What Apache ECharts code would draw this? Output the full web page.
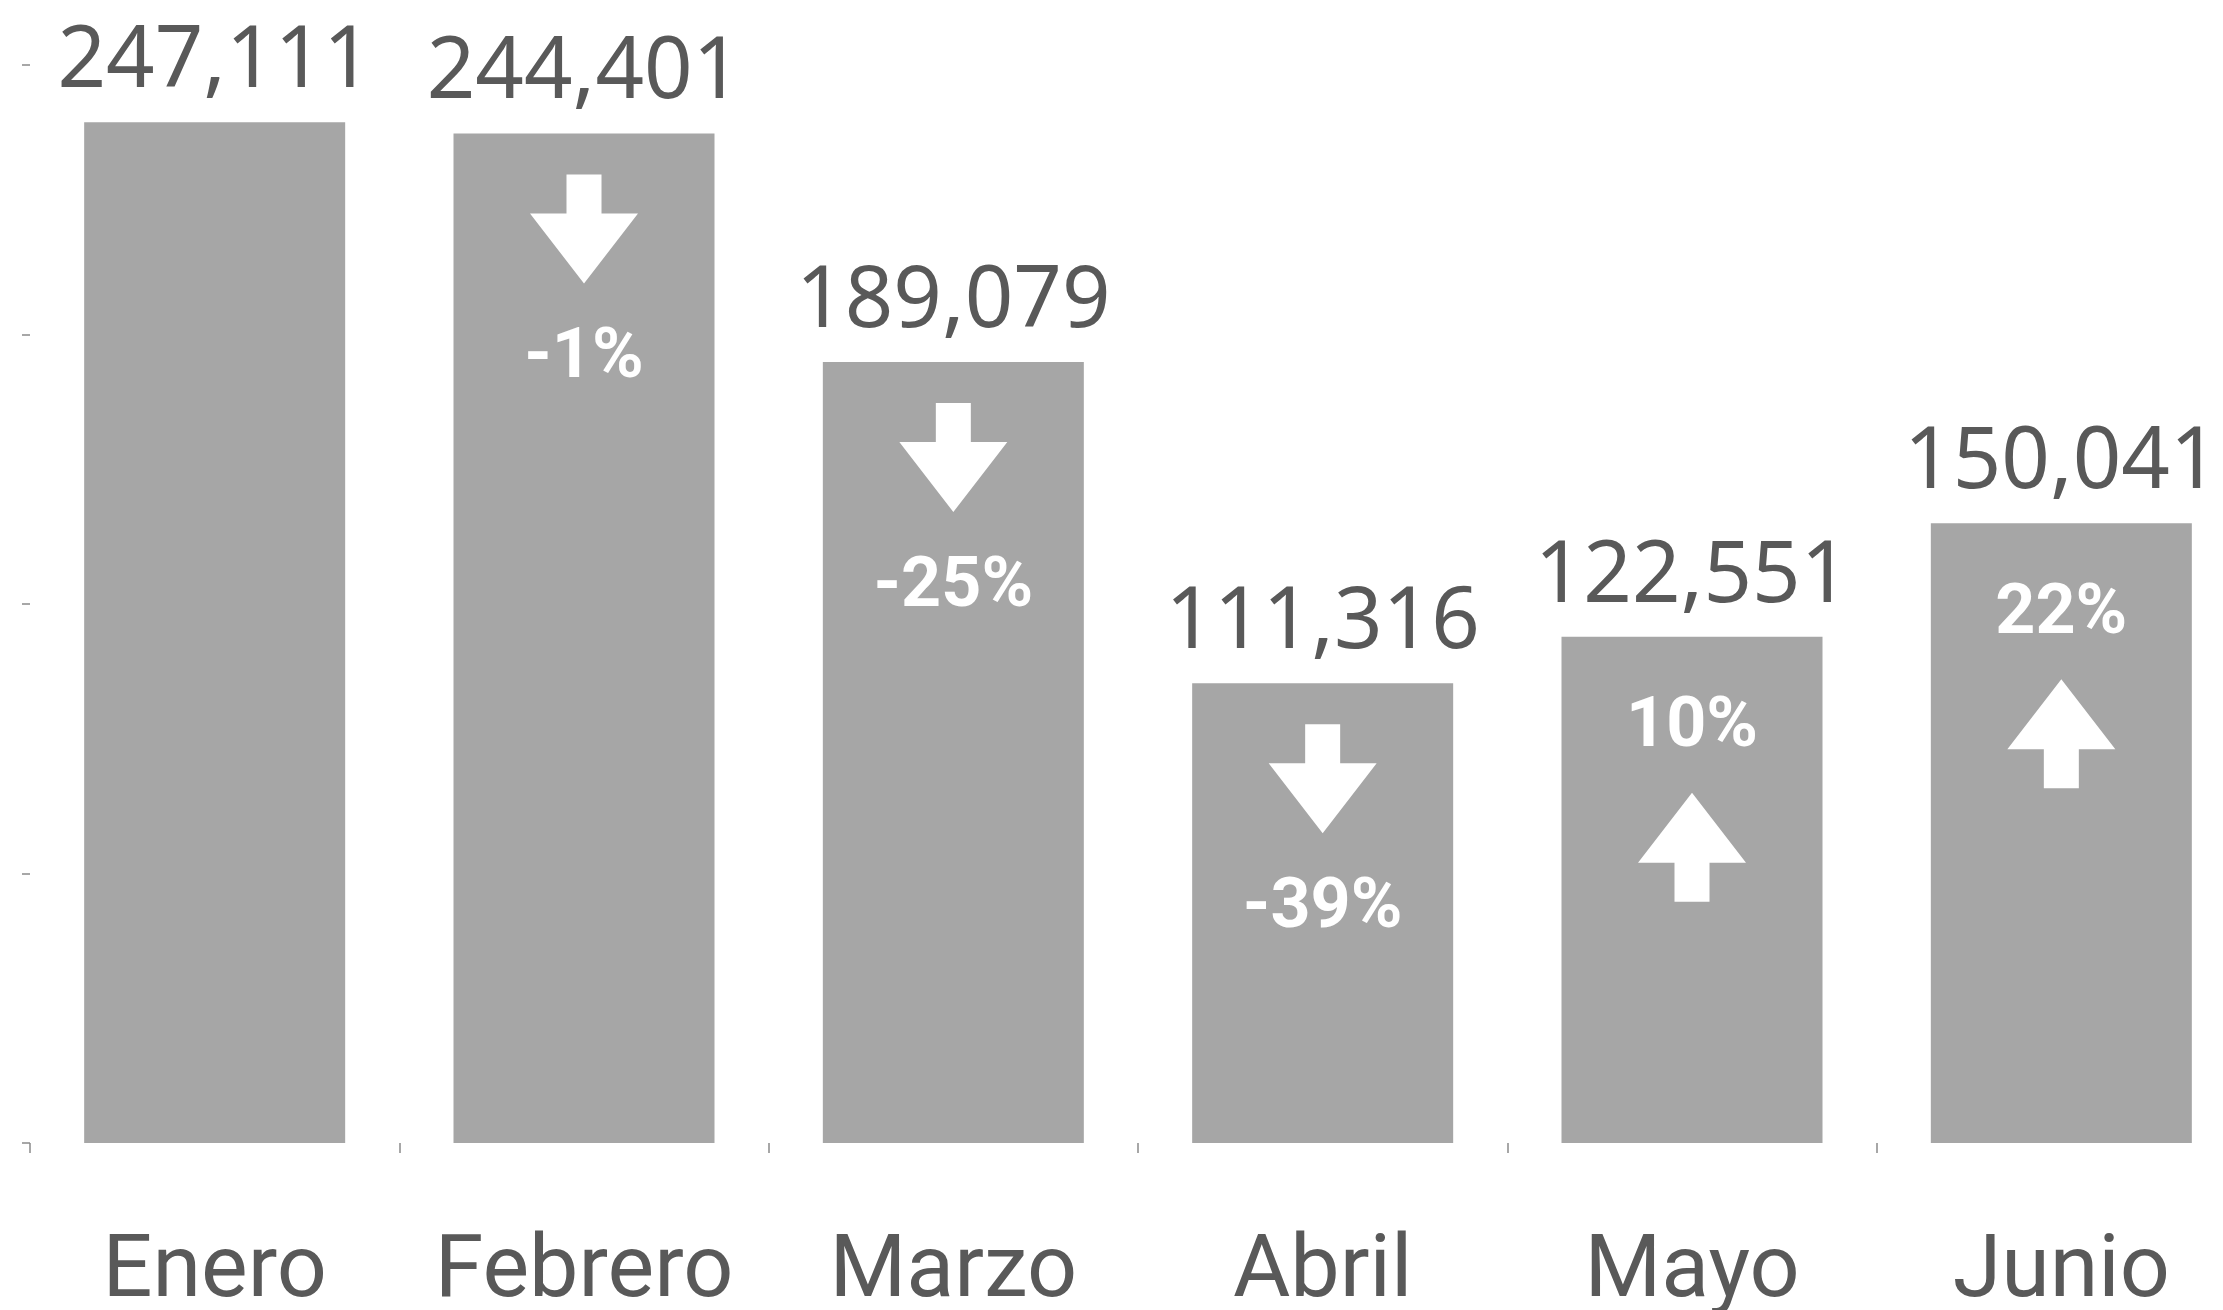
<!DOCTYPE html>
<html>
<head>
<meta charset="utf-8">
<script src="https://cdn.jsdelivr.net/npm/echarts@6/dist/echarts.min.js"></script>
<style>
  html, body { margin: 0; padding: 0; background: #fff; }
  #main { width: 2223px; height: 1310px; }
</style>
</head>
<body>
<div id="main"></div>
<script>
  // datos
  const meses = ['Enero', 'Febrero', 'Marzo', 'Abril', 'Mayo', 'Junio']
  const ventas = [247111, 244401, 189079, 111316, 122551, 150041]
  const cambio = [null, -1, -25, -39, 10, 22]

  const gris = '#A6A6A6'
  const texto = '#595959'

  const flechas = []
  cambio.forEach((c, i) => {
    if (c !== null) flechas.push([i, ventas[i], c])
  })

  // flecha blanca + porcentaje dentro de la barra
  function renderFlecha(params, api) {
    const p = api.coord([api.value(0), api.value(1)])
    const cx = p[0]
    const y0 = p[1]
    const c = api.value(2)
    const sw = 17.5
    const hw = 54
    let pts, ty
    if (c < 0) {
      const a = y0 + 41, b = y0 + 80, t = y0 + 150
      pts = [[cx - sw, a], [cx + sw, a], [cx + sw, b], [cx + hw, b], [cx, t], [cx - hw, b], [cx - sw, b]]
      ty = y0 + 226
    } else {
      const t = y0 + 156, b = y0 + 226, e = y0 + 265
      pts = [[cx, t], [cx + hw, b], [cx + sw, b], [cx + sw, e], [cx - sw, e], [cx - sw, b], [cx - hw, b]]
      ty = y0 + 92
    }
    return {
      type: 'group',
      children: [
        { type: 'polygon', shape: { points: pts }, style: { fill: '#fff' } },
        {
          type: 'text',
          style: {
            text: c + '%',
            x: cx,
            y: ty,
            align: 'center',
            verticalAlign: 'middle',
            fill: '#fff',
            fontSize: 70,
            fontWeight: 'bold',
            fontFamily: 'Roboto'
          }
        }
      ]
    }
  }

  const myChart = echarts.init(document.getElementById('main'))
  myChart.setOption({
    animation: false,
    backgroundColor: '#fff',
    grid: {
      left: 30,
      right: -23,
      top: 65,
      bottom: 167,
      containLabel: false,
      outerBoundsMode: 'none'
    },
    xAxis: {
      type: 'category',
      data: meses,
      axisLine: { show: false },
      axisTick: { show: true, interval: 0, length: 10, lineStyle: { color: '#8a8a8a', width: 1.5 } },
      axisLabel: {
        interval: 0,
        margin: 87,
        fontSize: 88,
        color: texto,
        fontFamily: 'Roboto'
      }
    },
    yAxis: {
      type: 'value',
      min: 0,
      max: 261000,
      interval: 65250,
      axisLine: { show: false },
      axisTick: { show: true, length: 8, lineStyle: { color: '#8a8a8a', width: 1.5 } },
      axisLabel: { show: false },
      splitLine: { show: false }
    },
    series: [
      {
        type: 'bar',
        data: ventas,
        barWidth: 261,
        itemStyle: { color: gris },
        label: {
          show: true,
          position: 'top',
          distance: 17,
          fontSize: 85,
          color: texto,
          fontFamily: 'Noto Sans',
          formatter: (p) => p.value.toLocaleString('en-US')
        }
      },
      {
        type: 'custom',
        data: flechas,
        renderItem: renderFlecha,
        clip: false,
        z: 5
      }
    ]
  })
</script>
</body>
</html>
